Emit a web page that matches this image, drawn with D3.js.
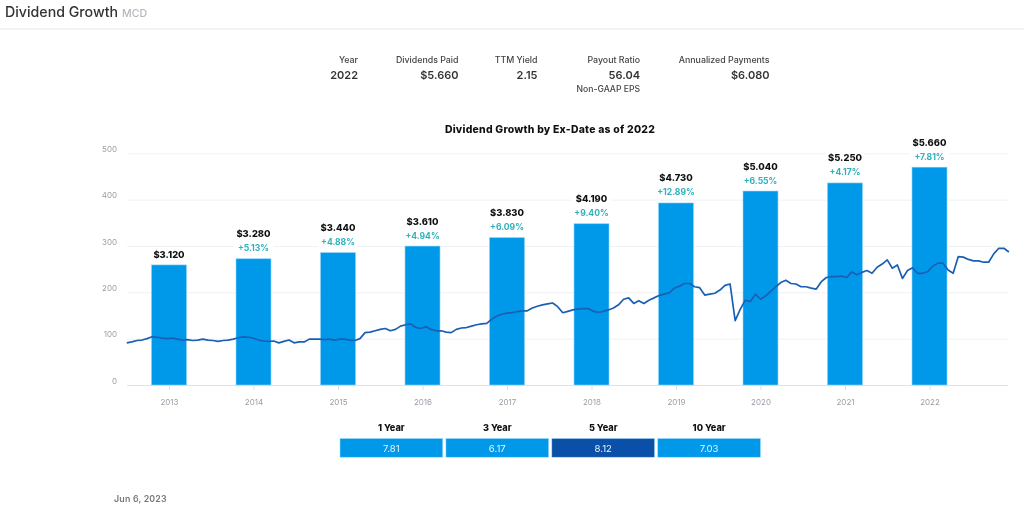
<!DOCTYPE html>
<html><head><meta charset="utf-8">
<script src="https://cdnjs.cloudflare.com/ajax/libs/d3/7.8.5/d3.min.js"></script>
<style>
html,body{margin:0;padding:0;background:#fff}
svg{display:block;filter:blur(0.4px)}
text{font-family:Inter,"Noto Sans",sans-serif}
</style></head><body>
<svg id="c" width="1024" height="515"></svg>
<script>
const years=[2013,2014,2015,2016,2017,2018,2019,2020,2021,2022];
const dividends=[3.12,3.28,3.44,3.61,3.83,4.19,4.73,5.04,5.25,5.66];
const dividendLabels=["$3.120","$3.280","$3.440","$3.610","$3.830","$4.190","$4.730","$5.040","$5.250","$5.660"];
const growthLabels=["","+5.13%","+4.88%","+4.94%","+6.09%","+9.40%","+12.89%","+6.55%","+4.17%","+7.81%"];
const priceTicks=[0,100,200,300,400,500];
const prices=[91,93,96,97,100,104,103,101,100,101,99,97,98,96,97,99,97,96,94,96,97,99,102,104,103,101,97,95,94,95,91,94,97,91,93,93,99,99,99,98,99,97,99,99,97,96,100,113,114,117,120,122,117,120,127,130,132,124,122,126,120,117,117,114,113,120,123,124,127,130,132,133,142,149,153,155,156,158,160,160,166,170,173,175,177,169,156,159,162,164,165,165,159,157,159,162,166,173,185,188,176,182,176,183,188,193,196,199,209,213,219,219,212,210,194,196,198,205,215,218,139,163,183,180,196,185,192,202,212,221,226,219,218,212,212,209,207,223,232,234,234,235,232,244,238,243,247,241,254,261,270,252,259,230,247,253,241,241,245,257,263,263,248,241,277,276,271,268,268,265,265,283,295,295,287];
const priceStartYear=2012.5, priceStepYears=0.06;
const statLabels=["Year","Dividends Paid","TTM Yield","Payout Ratio","Annualized Payments"];
const statValues=["2022","$5.660","2.15","56.04","$6.080"];
const cagrLabels=["1 Year","3 Year","5 Year","10 Year"];
const cagrValues=["7.81","6.17","8.12","7.03"];
const cagrHighlight="5 Year";

const svg=d3.select("#c");
const barBlue="#0099ea", darkBlue="#0b50a8", lineBlue="#1b5fb5", teal="#2db1bd";
const yBase=385,yTop=153.3;
const x=d3.scaleLinear().domain([2013,2022]).range([169,929.5]);
const yPrice=d3.scaleLinear().domain([0,500]).range([yBase,yTop]);
const yDiv=d3.scaleLinear().domain([0,6.02]).range([yBase,yTop]);
const left=127,right=1008;

// page header
svg.append("text").attr("x",5).attr("y",17).attr("font-size",14.2).attr("font-weight",500).attr("fill","#333").text("Dividend Growth");
svg.append("text").attr("x",122).attr("y",16.5).attr("font-size",10.6).attr("font-weight",500).attr("fill","#b4b8bd").text("MCD");
svg.append("line").attr("x1",0).attr("x2",1024).attr("y1",29).attr("y2",29).attr("stroke","#e2e7ee").attr("stroke-width",1);

// stats
const statX=d3.scaleOrdinal().domain(statLabels).range([358,458.5,537.5,640,769.5]);
statLabels.forEach((l,i)=>{
  svg.append("text").attr("x",statX(l)).attr("y",62.5).attr("text-anchor","end").attr("font-size",8.8).attr("font-weight",500).attr("fill","#444").text(l);
  svg.append("text").attr("x",statX(l)).attr("y",79).attr("text-anchor","end").attr("font-size",11).attr("font-weight",600).attr("fill","#333").text(statValues[i]);
});
svg.append("text").attr("x",640).attr("y",92).attr("text-anchor","end").attr("font-size",8.6).attr("font-weight",500).attr("fill","#444").text("Non-GAAP EPS");

// chart title
svg.append("text").attr("x",550).attr("y",133).attr("text-anchor","middle").attr("font-size",10.4).attr("letter-spacing",0.25).attr("font-weight",800).attr("fill","#111").text("Dividend Growth by Ex-Date as of 2022");

// axes
const gy=svg.append("g").attr("transform",`translate(${left},0)`)
 .call(d3.axisLeft(yPrice).tickValues(priceTicks).tickSize(-(right-left)).tickPadding(10));
gy.select(".domain").remove();
gy.selectAll("line").attr("stroke",d=>d===0?"#dde4ee":"#eef1f5");
gy.selectAll("text").attr("font-size",8).attr("fill","#9a9ea4").attr("dy",-1.8).style("font-family","Inter");

const gx=svg.append("g").attr("transform",`translate(0,${yBase})`)
 .call(d3.axisBottom(x).tickValues(years).tickFormat(d3.format("d")).tickSize(5).tickPadding(9));
gx.select(".domain").remove();
gx.selectAll("line").attr("stroke","#dde4ee");
gx.selectAll("text").attr("font-size",8).attr("fill","#9a9ea4").style("font-family","Inter");

// bars
const barW=35;
svg.append("g").selectAll("rect").data(years).join("rect")
 .attr("x",d=>x(d)-barW/2).attr("width",barW)
 .attr("y",(d,i)=>yDiv(dividends[i])).attr("height",(d,i)=>yBase-yDiv(dividends[i]))
 .attr("fill",barBlue).attr("stroke","#8fd3f7").attr("stroke-width",0.6);

// price line
const priceLine=d3.line().x((d,i)=>x(priceStartYear+i*priceStepYears)).y(d=>yPrice(d));
svg.append("path").datum(prices).attr("d",priceLine).attr("fill","none").attr("stroke",lineBlue).attr("stroke-width",1.7).attr("stroke-linejoin","round");

// bar labels
years.forEach((yr,i)=>{
  const top=yDiv(dividends[i]), g=growthLabels[i];
  if(g){
    svg.append("rect").attr("x",x(yr)-20).attr("y",top-16).attr("width",40).attr("height",11).attr("fill","#fff");
    svg.append("text").attr("x",x(yr)).attr("y",top-7.5).attr("text-anchor","middle").attr("font-size",8.6).attr("font-weight",700).attr("fill",teal).text(g);
  }
  svg.append("rect").attr("x",x(yr)-20).attr("y",top-(g?31:17)).attr("width",40).attr("height",12).attr("fill","#fff");
  svg.append("text").attr("x",x(yr)).attr("y",top-(g?21.5:7)).attr("text-anchor","middle").attr("font-size",9.4).attr("font-weight",800).attr("fill","#111").text(dividendLabels[i]);
});

// CAGR table
const cx=d3.scaleBand().domain(cagrLabels).range([340,760.5]).paddingInner(0.03);
cagrLabels.forEach((l,i)=>{
  const cm=cx(l)+cx.bandwidth()/2;
  svg.append("text").attr("x",cm).attr("y",430.5).attr("text-anchor","middle").attr("font-size",9.2).attr("font-weight",800).attr("fill","#111").text(l);
  svg.append("rect").attr("x",cx(l)).attr("y",438.5).attr("width",cx.bandwidth()).attr("height",18.7)
    .attr("fill",l===cagrHighlight?darkBlue:barBlue).attr("stroke","#a5dcf9").attr("stroke-width",0.5);
  svg.append("text").attr("x",cm).attr("y",451.5).attr("text-anchor","middle").attr("font-size",9.6).attr("fill","#e8f4fc").text(cagrValues[i]);
});

svg.append("text").attr("x",114).attr("y",502).attr("font-size",8.8).attr("letter-spacing",0.2).attr("font-weight",600).attr("fill","#777").text("Jun 6, 2023");
</script>
</body></html>
